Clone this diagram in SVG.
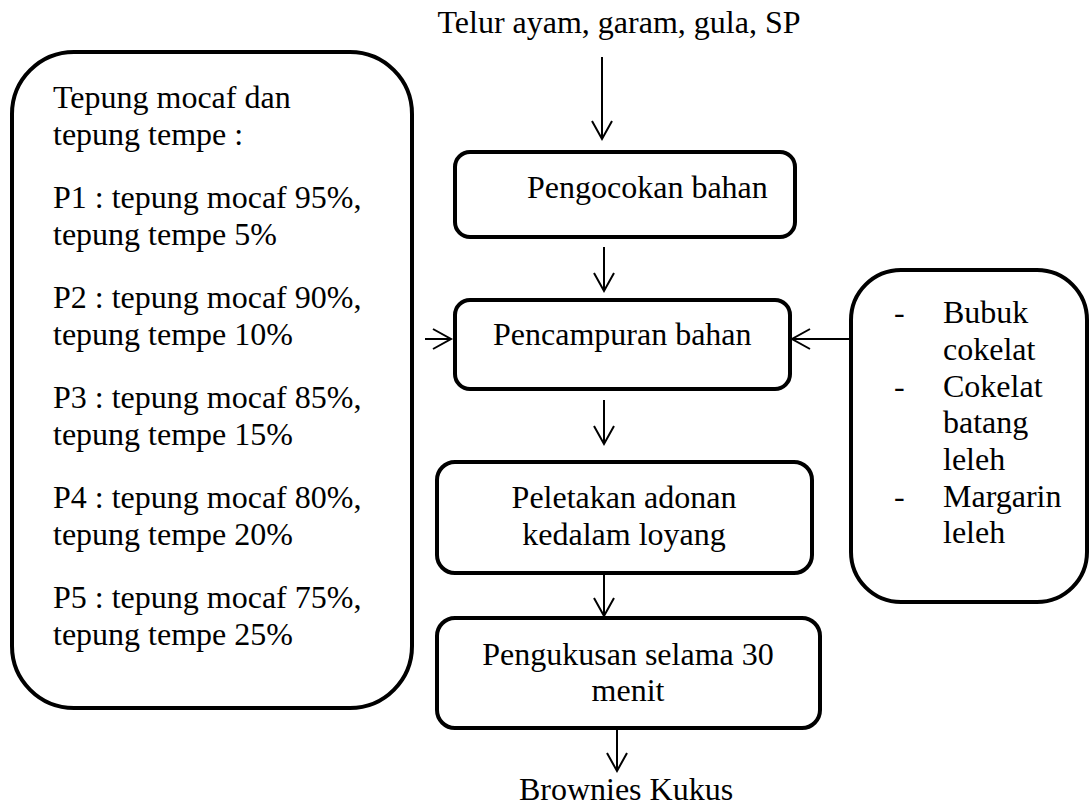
<svg xmlns="http://www.w3.org/2000/svg" width="1089" height="807" viewBox="0 0 1089 807">
<style>
.box{fill:#fff;stroke:#000;stroke-width:4}
.t{font-family:"Liberation Serif","Times New Roman","DejaVu Serif",serif;font-size:32px;fill:#000}
.c{text-anchor:middle}
.ln{stroke:#000;stroke-width:2;fill:none;marker-end:url(#ah)}
</style>
<defs>
<marker id="ah" markerUnits="userSpaceOnUse" markerWidth="40" markerHeight="40" refX="0" refY="0" orient="auto" viewBox="-20 -20 40 40" overflow="visible">
<path d="M-18,-10 L0,0 L-18,10" fill="none" stroke="#000" stroke-width="2"/>
</marker>
</defs>
<rect width="1089" height="807" fill="#fff"/>
<g id="connectors">
<line class="ln" x1="602" y1="57" x2="602" y2="139"/>
<line class="ln" x1="604" y1="247" x2="604" y2="291"/>
<line class="ln" x1="425" y1="339" x2="451" y2="339"/>
<line class="ln" x1="851" y1="339" x2="792" y2="339"/>
<line class="ln" x1="604" y1="400" x2="604" y2="444"/>
<line class="ln" x1="604" y1="573" x2="604" y2="616"/>
<line class="ln" x1="617" y1="730" x2="617" y2="771"/>
</g>
<g id="top-input">
<text class="t c" x="619" y="33">Telur ayam, garam, gula, SP</text>
</g>
<g id="left-box">
<rect class="box" x="12" y="52" width="400" height="656" rx="62" ry="62"/>
<text class="t" x="53" y="108">Tepung mocaf dan</text>
<text class="t" x="53" y="145">tepung tempe :</text>
<text class="t" x="53" y="208">P1 : tepung mocaf 95%,</text>
<text class="t" x="53" y="245">tepung tempe 5%</text>
<text class="t" x="53" y="308">P2 : tepung mocaf 90%,</text>
<text class="t" x="53" y="345">tepung tempe 10%</text>
<text class="t" x="53" y="408">P3 : tepung mocaf 85%,</text>
<text class="t" x="53" y="445">tepung tempe 15%</text>
<text class="t" x="53" y="508">P4 : tepung mocaf 80%,</text>
<text class="t" x="53" y="545">tepung tempe 20%</text>
<text class="t" x="53" y="608">P5 : tepung mocaf 75%,</text>
<text class="t" x="53" y="645">tepung tempe 25%</text>
</g>
<g id="pengocokan">
<rect class="box" x="455" y="152" width="340" height="85" rx="15" ry="15"/>
<text class="t" x="527" y="198">Pengocokan bahan</text>
</g>
<g id="pencampuran">
<rect class="box" x="455" y="300" width="335" height="89" rx="15" ry="15"/>
<text class="t" x="493" y="345">Pencampuran bahan</text>
</g>
<g id="peletakan">
<rect class="box" x="437" y="462" width="375" height="111" rx="18" ry="18"/>
<text class="t c" x="624" y="508">Peletakan adonan</text>
<text class="t c" x="624" y="545">kedalam loyang</text>
</g>
<g id="pengukusan">
<rect class="box" x="437" y="618" width="383" height="110" rx="18" ry="18"/>
<text class="t c" x="628" y="665">Pengukusan selama 30</text>
<text class="t c" x="628" y="701">menit</text>
</g>
<g id="output">
<text class="t c" x="626" y="800">Brownies Kukus</text>
</g>
<g id="right-box">
<rect class="box" x="851" y="270" width="236" height="332" rx="50" ry="50"/>
<text class="t" x="894" y="323">-</text>
<text class="t" x="943" y="323">Bubuk</text>
<text class="t" x="943" y="360">cokelat</text>
<text class="t" x="894" y="397">-</text>
<text class="t" x="943" y="397">Cokelat</text>
<text class="t" x="943" y="433">batang</text>
<text class="t" x="943" y="470">leleh</text>
<text class="t" x="894" y="507">-</text>
<text class="t" x="943" y="507">Margarin</text>
<text class="t" x="943" y="543">leleh</text>
</g>
</svg>
